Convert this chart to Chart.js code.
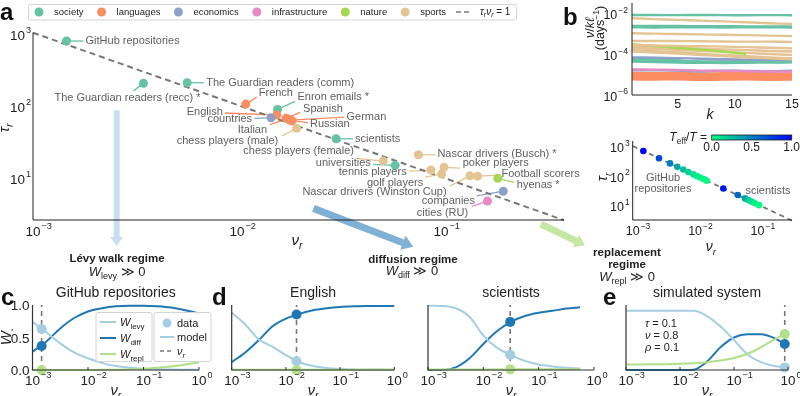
<!DOCTYPE html>
<html>
<head>
<meta charset="utf-8">
<script src="https://cdn.jsdelivr.net/npm/chart.js@4.4.0/dist/chart.umd.min.js"></script>
<style>
  body { margin: 0; background: #fff; }
  #fig { position: relative; width: 800px; height: 396px; overflow: hidden; }
  #fig canvas { position: absolute; }
</style>
</head>
<body>
<div id="fig">
  <canvas id="pa" width="800" height="396" style="left:0;top:0"></canvas>
  <canvas id="pb1" width="240" height="120" style="left:560px;top:0"></canvas>
  <canvas id="pb2" width="240" height="130" style="left:560px;top:125px"></canvas>
  <canvas id="pcb" width="100" height="26" style="left:700px;top:128px"></canvas>
  <canvas id="pc" width="212" height="116" style="left:0;top:280px"></canvas>
  <canvas id="pd1" width="200" height="116" style="left:212px;top:280px"></canvas>
  <canvas id="pd2" width="196" height="116" style="left:412px;top:280px"></canvas>
  <canvas id="pe" width="200" height="116" style="left:600px;top:280px"></canvas>
</div>
<script>
'use strict';

// ---------- panel a : systems in the (nu_r, tau_r) plane ----------
const A_NAMES = [
  'GitHub repositories', 'The Guardian readers (recc) *', 'The Guardian readers (comm)', 'French',
  'Enron emails *', 'English', 'countries', 'Spanish', 'German', 'Italian', 'Russian',
  'chess players (male)', 'scientists', 'chess players (female)', 'universities',
  'Nascar drivers (Busch) *', 'tennis players', 'poker players', 'golf players',
  'Nascar drivers (Winston Cup)', 'Football scorers', 'hyenas *', 'companies', 'cities (RU)'
];
const A_NU = [0.00146, 0.00348, 0.0057, 0.01104, 0.0158, 0.01567, 0.0147, 0.0174, 0.0183, 0.0176, 0.0186,
  0.0196, 0.0306, 0.0521, 0.0596, 0.0775, 0.0893, 0.1035, 0.1007, 0.1387, 0.151, 0.190, 0.202, 0.169];
const A_TAU = [767, 198, 202, 102, 86, 72, 65.9, 64.7, 61.2, 64, 60,
  47, 33.7, 16.5, 14.4, 20.2, 12.4, 13.5, 10.9, 10.3, 10.2, 9.5, 6.3, 4.6];
const A_CAT = ['society', 'society', 'society', 'languages', 'society', 'languages', 'economics', 'languages',
  'languages', 'languages', 'languages', 'sports', 'society', 'sports', 'society', 'sports', 'sports',
  'sports', 'sports', 'sports', 'sports', 'nature', 'economics', 'infrastructure'];
const CATEGORIES = ['society', 'languages', 'economics', 'infrastructure', 'nature', 'sports'];

// ---------- panel b (top) : rate per k ----------
const B_K = [1, 3, 5, 7, 9, 11, 13, 15];
const B_RATES = [
  [8.9e-3, 8.9e-3, 8.8e-3, 8.9e-3, 8.8e-3, 8.7e-3, 8.8e-3, 8.7e-3],
  [6.2e-3, 5.6e-3, 5.1e-3, 4.7e-3, 4.3e-3, 3.9e-3, 3.5e-3, 3.2e-3],
  [2.6e-3, 2.6e-3, 2.55e-3, 2.5e-3, 2.5e-3, 2.45e-3, 2.4e-3, 2.4e-3],
  [2.2e-3, 2.15e-3, 2.2e-3, 2.2e-3, 2.15e-3, 2.2e-3, 2.2e-3, 2.15e-3],
  [1.12e-3, 1.07e-3, 1.02e-3, 9.8e-4, 9.4e-4, 9.0e-4, 8.5e-4, 8.1e-4],
  [4.7e-4, 4.6e-4, 4.6e-4, 4.5e-4, 4.4e-4, 4.3e-4, 4.3e-4, 4.2e-4],
  [2.95e-4, 2.8e-4, 2.65e-4, 2.55e-4, 2.45e-4, 2.3e-4, 2.15e-4, 2.05e-4],
  [3.2e-4, 2.6e-4, 2.1e-4, 1.75e-4, 1.4e-4, 1.05e-4],
  [2.45e-4, 2.3e-4, 2.1e-4, 1.95e-4, 1.8e-4, 1.65e-4, 1.5e-4, 1.4e-4],
  [2.05e-4, 1.85e-4, 1.7e-4, 1.5e-4, 1.35e-4, 1.2e-4, 1.05e-4, 9.5e-5],
  [1.65e-4, 1.45e-4, 1.3e-4, 1.1e-4, 9.5e-5, 8.3e-5, 7.2e-5, 6.5e-5],
  [1.4e-4, 1.25e-4, 1.1e-4, 9.5e-5, 8.3e-5, 7.3e-5, 6.4e-5, 5.8e-5],
  [7.2e-5, 7.0e-5, 6.6e-5, 6.2e-5, 5.8e-5, 5.6e-5, 5.4e-5, 5.4e-5],
  [6.5e-5, 6.0e-5, 5.2e-5, 4.0e-5, 4.4e-5, 4.8e-5, 4.7e-5, 4.8e-5],
  [5.4e-5, 5.0e-5, 4.6e-5, 4.6e-5, 4.5e-5, 4.3e-5, 4.4e-5, 4.2e-5],
  [4.5e-5, 4.2e-5, 4.0e-5, 3.9e-5, 3.8e-5, 3.9e-5, 4.0e-5, 4.1e-5],
  [1.85e-5, 1.8e-5, 1.75e-5, 1.6e-5, 1.55e-5, 1.5e-5, 1.45e-5, 1.4e-5],
  [1.7e-5, 1.65e-5, 1.6e-5, 1.45e-5, 1.6e-5, 1.55e-5, 1.5e-5, 1.6e-5],
  [1.26e-5, 1.2e-5, 1.25e-5, 1.15e-5, 1.2e-5, 1.25e-5, 1.2e-5, 1.15e-5],
  [1.07e-5, 1.1e-5, 1.05e-5, 1.0e-5, 1.08e-5, 1.03e-5, 1.0e-5, 1.05e-5],
  [9.3e-6, 9.0e-6, 9.5e-6, 9.2e-6, 8.8e-6, 9.3e-6, 9.0e-6, 9.1e-6],
  [8.0e-6, 7.8e-6, 8.1e-6, 7.6e-6, 7.9e-6, 8.0e-6, 7.7e-6, 7.8e-6],
  [6.9e-6, 7.0e-6, 6.7e-6, 6.8e-6, 6.6e-6, 6.9e-6, 6.7e-6, 6.6e-6],
  [5.9e-6, 5.8e-6, 6.0e-6, 5.6e-6, 5.8e-6, 5.9e-6, 5.7e-6, 5.8e-6]
];
const B_RATE_CAT = ['society', 'sports', 'society', 'society', 'sports', 'sports', 'sports', 'nature',
  'sports', 'sports', 'sports', 'sports', 'economics', 'society', 'society', 'society', 'infrastructure',
  'economics', 'languages', 'languages', 'languages', 'languages', 'languages', 'languages'];

// ---------- panel b (bottom) : simulated systems ----------
const B_SIM_NU = [0.00148, 0.00264, 0.00396, 0.00519, 0.00647, 0.00778, 0.00936, 0.0106, 0.0120, 0.0136,
  0.0153, 0.0283, 0.0482, 0.0631, 0.0713, 0.0807, 0.0912, 0.106];
const B_SIM_TAU = [676, 379, 253, 193, 155, 129, 107, 94, 83, 74, 65, 35, 21, 16, 14, 12.4, 11, 9.4];
const B_SIM_TEFF = [1.0, 0.72, 0.5, 0.35, 0.25, 0.18, 0.12, 0.08, 0.05, 0.03, 0.01,
  0.9, 0.6, 0.35, 0.2, 0.12, 0.05, 0.0];

// ---------- panels c, d, e : weights vs nu_r ----------
const W_NU = [0.001, 0.00178, 0.00316, 0.00562, 0.01, 0.0178, 0.0316, 0.0562, 0.1, 0.178, 0.316, 0.562, 1];
const W_TICKS = [0.001, 0.01, 0.1, 1];

const GH_LEVY = [0.74, 0.58, 0.41, 0.27, 0.18, 0.11, 0.06, 0.035, 0.02, 0.01, 0.006, 0.004, 0.002];
const GH_DIFF = [0.28, 0.44, 0.64, 0.80, 0.90, 0.95, 0.98, 0.99, 0.99, 0.98, 0.96, 0.92, 0.87];
const GH_REPL = [0, 0, 0, 0, 0, 0.002, 0.005, 0.01, 0.02, 0.035, 0.055, 0.085, 0.12];
const GH_NU_R = 0.00146;
const GH_POINTS = [0.63, 0.37, 0.0];

const EN_LEVY = [0.88, 0.70, 0.47, 0.36, 0.23, 0.12, 0.06, 0.03, 0.015, 0.008, 0.004, 0.002, 0.001];
const EN_DIFF = [0.12, 0.27, 0.46, 0.67, 0.79, 0.865, 0.92, 0.95, 0.97, 0.98, 0.985, 0.985, 0.985];
const EN_REPL = [0.004, 0.004, 0.004, 0.004, 0.004, 0.004, 0.005, 0.005, 0.005, 0.005, 0.006, 0.006, 0.006];
const EN_NU_R = 0.0157;
const EN_POINTS = [0.134, 0.855, 0.0];

const SC_NU = [0.001, 0.00178, 0.00316, 0.00562, 0.01, 0.0178, 0.0316, 0.0562, 0.1, 0.178, 0.316, 0.562];
const SC_LEVY = [0.99, 0.985, 0.95, 0.82, 0.53, 0.34, 0.23, 0.14, 0.085, 0.055, 0.035, 0.025];
const SC_DIFF = [0, 0, 0.04, 0.18, 0.40, 0.60, 0.74, 0.83, 0.88, 0.91, 0.945, 0.965];
const SC_REPL = [0.008, 0.008, 0.008, 0.008, 0.009, 0.009, 0.01, 0.01, 0.01, 0.01, 0.01, 0.01];
const SC_NU_R = 0.0306;
const SC_POINTS = [0.233, 0.74, 0.01];

const SIM_NU = [0.001, 0.00178, 0.00316, 0.00562, 0.01, 0.0178, 0.0316, 0.0562, 0.1, 0.178, 0.316, 0.562, 0.87];
const SIM_LEVY = [0.91, 0.91, 0.91, 0.91, 0.91, 0.91, 0.83, 0.67, 0.46, 0.24, 0.12, 0.06, 0.04];
const SIM_DIFF = [0, 0, 0, 0, 0, 0.005, 0.13, 0.35, 0.50, 0.55, 0.55, 0.49, 0.40];
const SIM_REPL = [0.085, 0.086, 0.088, 0.09, 0.095, 0.105, 0.12, 0.145, 0.185, 0.25, 0.35, 0.47, 0.554];
const SIM_NU_R = 0.87;
const SIM_POINTS = [0.04, 0.40, 0.554];

// ---------- styles ----------
const FONT = "'Liberation Sans', Arial, Helvetica, sans-serif";
const CAT_COLORS = {
  society: '#66c2a5', languages: '#fc8d62', economics: '#8da0cb',
  infrastructure: '#e78ac3', nature: '#a6d854', sports: '#e5c494'
};
const C_LEVY = '#a6cee3', C_DIFF = '#1f78b4', C_REPL = '#b2df8a';
const LABEL_GREY = '#5f5f5f';
const DASH_GREY = '#777777';

// label placement for panel a: [dx, dy, align, leader dx, leader dy] in px from the point
const A_LABEL_LAYOUT = [
  [19, 0, 'left', 17, 0], [-16, 14.5, 'center', -10, 7.5], [19, 0, 'left', 17, 0],
  [13, -11, 'left', 11, -7], [20, -12.5, 'left', 17.5, -8], [-54, -3, 'right', -52, -2],
  [-19, 1.5, 'right', -17, 0.5], [17, -9.5, 'left', 14, -6], [56, -3.3, 'left', 54, -3],
  [-20, 11, 'right', -17, 6], [18, 3.5, 'left', 16, 2], [-18.4, 12.4, 'right', -14.7, 7.7],
  [19, 0, 'left', 17, 0], [-29.3, -9.7, 'right', -26.6, -2.7], [-24.3, -2, 'right', -22, -1],
  [19, -0.7, 'left', 17, 0], [-24.3, 1.7, 'right', -22, 1], [18.7, -4, 'left', 16, 0.7],
  [-18.4, 8.7, 'right', -16.7, 3], [-23.3, 16.3, 'right', -20, 10.3], [24, -2, 'left', 22, -1],
  [19, 6.7, 'left', 16.3, 4], [-28.3, 9.7, 'right', -26.6, 4.7], [-19.3, 11.6, 'right', -15.6, 5.3]
];

// regime arrows, given in panel a data units
const REGIME_ARROWS = [
  { from: [0.00257, 84], to: [0.00257, 1.09], color: '#c9def0', w: 6, hw: 13, hl: 9 },
  { from: [0.0237, 3.64], to: [0.0731, 1.07], color: '#7fb1d6', w: 7, hw: 15, hl: 11 },
  { from: [0.309, 2.2], to: [0.508, 1.12], color: '#c6e6a4', w: 7, hw: 14, hl: 10 }
];

Chart.defaults.font.family = FONT;

// ---------- drawing helpers ----------
function f(size, style) {
  return (style ? style + ' ' : '') + size + 'px ' + FONT;
}

// parts: [text, size, style, dy]
function rich(ctx, parts, x, y, align, color) {
  ctx.save();
  ctx.fillStyle = color || '#222';
  ctx.textBaseline = 'alphabetic';
  ctx.textAlign = 'left';
  let w = 0;
  const ws = parts.map(p => {
    ctx.font = f(p[1], p[2]);
    const m = ctx.measureText(p[0]).width;
    w += m;
    return m;
  });
  let cx = align === 'center' ? x - w / 2 : align === 'right' ? x - w : x;
  parts.forEach((p, i) => {
    ctx.font = f(p[1], p[2]);
    ctx.fillText(p[0], cx, y + (p[3] || 0));
    cx += ws[i];
  });
  ctx.restore();
}

function richRot(ctx, parts, x, y, color) {
  ctx.save();
  ctx.translate(x, y);
  ctx.rotate(-Math.PI / 2);
  rich(ctx, parts, 0, 0, 'center', color);
  ctx.restore();
}

function expStr(v) {
  return String(Math.round(Math.log10(v))).replace('-', '\u2212');
}

// "10" with superscript; base centred on x, or whole label ending at x
function pow10(ctx, v, x, yc, size, align) {
  const exp = expStr(v);
  ctx.save();
  ctx.fillStyle = '#222';
  ctx.textBaseline = 'alphabetic';
  ctx.textAlign = 'left';
  ctx.font = f(size);
  const bw = ctx.measureText('10').width;
  ctx.font = f(size * 0.68);
  const ew = ctx.measureText(exp).width;
  const x0 = align === 'right' ? x - bw - ew - 1 : x - bw / 2;
  const base = yc + size * 0.36;
  ctx.font = f(size);
  ctx.fillText('10', x0, base);
  ctx.font = f(size * 0.68);
  ctx.fillText(exp, x0 + bw + 1, base - size * 0.5);
  ctx.restore();
}

function arrow(ctx, x1, y1, x2, y2, color, w, hw, hl) {
  const len = Math.hypot(x2 - x1, y2 - y1);
  ctx.save();
  ctx.translate(x1, y1);
  ctx.rotate(Math.atan2(y2 - y1, x2 - x1));
  ctx.fillStyle = color;
  ctx.beginPath();
  ctx.moveTo(0, -w / 2);
  ctx.lineTo(len - hl, -w / 2);
  ctx.lineTo(len - hl, -hw / 2);
  ctx.lineTo(len, 0);
  ctx.lineTo(len - hl, hw / 2);
  ctx.lineTo(len - hl, w / 2);
  ctx.lineTo(0, w / 2);
  ctx.closePath();
  ctx.fill();
  ctx.restore();
}

function seg(ctx, x1, y1, x2, y2, color, width, dash) {
  ctx.save();
  ctx.strokeStyle = color;
  ctx.lineWidth = width;
  ctx.setLineDash(dash || []);
  ctx.beginPath();
  ctx.moveTo(x1, y1);
  ctx.lineTo(x2, y2);
  ctx.stroke();
  ctx.restore();
}

function dot(ctx, x, y, r, color) {
  ctx.save();
  ctx.fillStyle = color;
  ctx.beginPath();
  ctx.arc(x, y, r, 0, Math.PI * 2);
  ctx.fill();
  ctx.restore();
}

function box(ctx, x, y, w, h) {
  ctx.save();
  ctx.fillStyle = 'rgba(255,255,255,0.9)';
  ctx.strokeStyle = '#d4d4d4';
  ctx.lineWidth = 1;
  ctx.beginPath();
  ctx.roundRect(x + 0.5, y + 0.5, w, h, 2);
  ctx.fill();
  ctx.stroke();
  ctx.restore();
}

function axesLines(chart, color, width) {
  const a = chart.chartArea;
  const ctx = chart.ctx;
  ctx.save();
  ctx.strokeStyle = color;
  ctx.lineWidth = width;
  ctx.beginPath();
  ctx.moveTo(a.left, a.top);
  ctx.lineTo(a.left, a.bottom);
  ctx.lineTo(a.right, a.bottom);
  ctx.stroke();
  ctx.restore();
}

// winter colormap reversed: 0 -> green, 1 -> blue
function teffColor(t) {
  return 'rgb(0,' + Math.round(255 * (1 - t)) + ',' + Math.round(255 * (0.5 + 0.5 * t)) + ')';
}

function baseOptions(pad, xScale, yScale) {
  return {
    responsive: false,
    animation: false,
    events: [],
    layout: { padding: pad },
    plugins: { legend: { display: false }, tooltip: { enabled: false } },
    scales: {
      x: Object.assign({ display: false }, xScale),
      y: Object.assign({ display: false }, yScale)
    }
  };
}

const nuR = (s) => [['\u03bd', s, 'italic'], ['r', s * 0.7, 'italic', s * 0.25]];
const tauR = (s) => [['\u03c4', s, 'italic'], ['r', s * 0.7, 'italic', s * 0.25]];

// ---------- panel a ----------
const panelA = {
  id: 'panelA',
  beforeDatasetsDraw(chart) {
    const { ctx, scales: { x, y } } = chart;
    REGIME_ARROWS.forEach(a => arrow(ctx,
      x.getPixelForValue(a.from[0]), y.getPixelForValue(a.from[1]),
      x.getPixelForValue(a.to[0]), y.getPixelForValue(a.to[1]), a.color, a.w, a.hw, a.hl));
    chart.getDatasetMeta(0).data.forEach((p, i) => {
      const L = A_LABEL_LAYOUT[i];
      seg(ctx, p.x, p.y, p.x + L[3], p.y + L[4], CAT_COLORS[A_CAT[i]], 1.3);
    });
  },
  afterDraw(chart) {
    const { ctx, chartArea: a, scales: { x, y } } = chart;
    axesLines(chart, '#222', 1);
    [0.001, 0.01, 0.1].forEach(v => pow10(ctx, v, x.getPixelForValue(v), a.bottom + 11, 13.5, 'center'));
    [10, 100, 1000].forEach(v => pow10(ctx, v, a.left - 2, y.getPixelForValue(v) + 2, 13.5, 'right'));
    richRot(ctx, tauR(15), 9, 128);
    rich(ctx, nuR(15), 297, 245, 'center');

    // point labels
    chart.getDatasetMeta(0).data.forEach((p, i) => {
      const L = A_LABEL_LAYOUT[i];
      ctx.save();
      ctx.font = f(11);
      ctx.fillStyle = LABEL_GREY;
      ctx.textAlign = L[2];
      ctx.textBaseline = 'middle';
      ctx.fillText(A_NAMES[i], p.x + L[0], p.y + L[1]);
      ctx.restore();
    });

    // legend
    box(ctx, 28, 4, 488, 15.5);
    ctx.save();
    ctx.font = f(9.5);
    let lx = 39;
    CATEGORIES.forEach(c => {
      dot(ctx, lx, 12, 4.5, CAT_COLORS[c]);
      rich(ctx, [[c, 9.5]], lx + 15, 15.4, 'left');
      lx += 15 + ctx.measureText(c).width + 18;
    });
    ctx.restore();
    seg(ctx, lx - 8, 12, lx + 8, 12, DASH_GREY, 1.6, [5, 3]);
    rich(ctx, [['\u03c4', 10, 'italic'], ['r', 7, 'italic', 2], ['\u03bd', 10, 'italic'], ['r', 7, 'italic', 2],
      [' = 1', 10]], lx + 16, 15.4, 'left');

    // regime captions
    rich(ctx, [['L\u00e9vy walk regime', 11.5, 'bold']], 117, 262, 'center');
    rich(ctx, [['W', 13, 'italic'], ['levy', 9, '', 3], [' \u226b 0', 13]], 117, 276, 'center');
    rich(ctx, [['diffusion regime', 11.5, 'bold']], 413, 263, 'center');
    rich(ctx, [['W', 13, 'italic'], ['diff', 9, '', 3], [' \u226b 0', 13]], 412, 275, 'center');
    rich(ctx, [['replacement', 11.5, 'bold']], 627, 256, 'center');
    rich(ctx, [['regime', 11.5, 'bold']], 627, 268, 'center');
    rich(ctx, [['W', 13, 'italic'], ['repl', 9, '', 3], [' \u226b 0', 13]], 627, 281, 'center');

    rich(ctx, [['a', 24, 'bold']], 0, 20, 'left', '#111');
  }
};

new Chart(document.getElementById('pa'), {
  type: 'scatter',
  data: {
    datasets: [
      {
        data: A_NU.map((v, i) => ({ x: v, y: A_TAU[i] })),
        backgroundColor: A_CAT.map(c => CAT_COLORS[c]),
        pointRadius: 4.5, pointBorderWidth: 0, clip: false, order: 0
      },
      {
        type: 'line',
        data: [{ x: 0.001, y: 1000 }, { x: 0.401, y: 2.494 }],
        borderColor: DASH_GREY, borderWidth: 2, borderDash: [6, 4], pointRadius: 0, clip: false, order: 1
      }
    ]
  },
  options: baseOptions({ left: 33, top: 32.7, right: 236, bottom: 176 },
    { type: 'logarithmic', min: 0.001, max: 0.401 },
    { type: 'logarithmic', min: 2.51, max: 1000 }),
  plugins: [panelA]
});

// ---------- panel b top ----------
const panelB1 = {
  id: 'panelB1',
  afterDraw(chart) {
    const { ctx, chartArea: a, scales: { x, y } } = chart;
    axesLines(chart, '#222', 1);
    [5, 10, 15].forEach(v => rich(ctx, [[String(v), 12.5]], x.getPixelForValue(v), a.bottom + 13, 'center'));
    [1e-2, 1e-4, 1e-6].forEach(v => pow10(ctx, v, a.left - 4, y.getPixelForValue(v) + 1, 12.5, 'right'));
    rich(ctx, [['k', 14, 'italic']], (a.left + a.right) / 2 - 2, a.bottom + 24, 'center');
    richRot(ctx, [['\u03bd', 12.5, 'italic'], ['/', 12.5], ['k\u2113', 12.5, 'italic']], 34, 28);
    richRot(ctx, [['(days', 12.5], ['\u22121', 8.5, '', -5], [')', 12.5]], 44, 28);
    rich(ctx, [['b', 24, 'bold']], 3, 25, 'left', '#111');
  }
};

new Chart(document.getElementById('pb1'), {
  type: 'line',
  data: {
    datasets: B_RATES.map((vals, i) => ({
      data: vals.map((v, j) => ({ x: B_K[j], y: v })),
      borderColor: CAT_COLORS[B_RATE_CAT[i]],
      borderWidth: 2.4, pointRadius: 0, tension: 0.4
    }))
  },
  options: baseOptions({ left: 72, top: 3, right: 8, bottom: 25 },
    { type: 'linear', min: 1, max: 15 },
    { type: 'logarithmic', min: 1e-6, max: 0.0349 }),
  plugins: [panelB1]
});

// ---------- panel b bottom ----------
const panelB2 = {
  id: 'panelB2',
  afterDraw(chart) {
    const { ctx, chartArea: a, scales: { x, y } } = chart;
    axesLines(chart, '#222', 1);
    [0.001, 0.01, 0.1].forEach(v => pow10(ctx, v, x.getPixelForValue(v), a.bottom + 10.5, 12.5, 'center'));
    [10, 100, 1000].forEach(v => pow10(ctx, v, a.left - 3, y.getPixelForValue(v) + 2, 12.5, 'right'));
    richRot(ctx, tauR(14), 47, 52);
    rich(ctx, nuR(14), 151, 126, 'center');
    rich(ctx, [['GitHub', 11]], 103, 56, 'center', LABEL_GREY);
    rich(ctx, [['repositories', 11]], 103, 67, 'center', LABEL_GREY);
    rich(ctx, [['scientists', 11]], 208, 69, 'center', LABEL_GREY);
    rich(ctx, [['T', 12, 'italic'], ['eff', 8.5, '', 3], ['/', 12], ['T', 12, 'italic'], [' =', 12]],
      147, 16, 'right');
  }
};

new Chart(document.getElementById('pb2'), {
  type: 'scatter',
  data: {
    datasets: [
      {
        data: B_SIM_NU.map((v, i) => ({ x: v, y: B_SIM_TAU[i] })),
        backgroundColor: B_SIM_TEFF.map(teffColor),
        pointRadius: 3.3, pointBorderWidth: 0, clip: false, order: 0
      },
      {
        type: 'line',
        data: [{ x: 0.001, y: 1000 }, { x: 0.357, y: 2.8 }],
        borderColor: DASH_GREY, borderWidth: 1.8, borderDash: [5, 4], pointRadius: 0, clip: false, order: 1
      }
    ]
  },
  options: baseOptions({ left: 72.7, top: 16, right: 8, bottom: 35 },
    { type: 'logarithmic', min: 0.001, max: 0.357 },
    { type: 'logarithmic', min: 2.92, max: 1480 }),
  plugins: [panelB2]
});

// colour bar for T_eff/T
const colorBar = {
  id: 'colorBar',
  afterDraw(chart) {
    const { ctx, chartArea: a, scales: { x } } = chart;
    const g = ctx.createLinearGradient(a.left, 0, a.right, 0);
    [0, 0.25, 0.5, 0.75, 1].forEach(t => g.addColorStop(t, teffColor(t)));
    ctx.save();
    ctx.fillStyle = g;
    ctx.fillRect(a.left, a.top, a.right - a.left, a.bottom - a.top);
    ctx.strokeStyle = '#222';
    ctx.lineWidth = 0.8;
    ctx.strokeRect(a.left, a.top, a.right - a.left, a.bottom - a.top);
    ctx.restore();
    [0, 0.5, 1].forEach(v => rich(ctx, [[v.toFixed(1), 12]], x.getPixelForValue(v), a.bottom + 11, 'center'));
  }
};

new Chart(document.getElementById('pcb'), {
  type: 'line',
  data: { datasets: [{ data: [] }] },
  options: baseOptions({ left: 11.7, top: 7, right: 8.3, bottom: 14 },
    { type: 'linear', min: 0, max: 1 },
    { type: 'linear', min: 0, max: 1 }),
  plugins: [colorBar]
});

// ---------- panels c, d, e ----------
const wPanel = {
  id: 'wPanel',
  afterDraw(chart, args, o) {
    const { ctx, chartArea: a, scales: { x, y } } = chart;
    axesLines(chart, '#333', 1.2);
    W_TICKS.forEach(v => {
      const px = x.getPixelForValue(v);
      seg(ctx, px, a.bottom, px, a.bottom - 3, '#333', 1);
      pow10(ctx, v, px, a.bottom + 10, 13.5, 'center');
    });
    rich(ctx, nuR(14.5), (a.left + a.right) / 2, a.bottom + 25, 'center');
    rich(ctx, [[o.title, 14]], (a.left + a.right) / 2, 17, 'center');
    rich(ctx, [[o.letter, 24, 'bold']], o.letterX, 25, 'left', '#111');

    if (o.yTicks) {
      [0, 0.5, 1].forEach(v => rich(ctx, [[v.toFixed(1), 13.5]], a.left - 3, y.getPixelForValue(v) + 5, 'right'));
      richRot(ctx, [['W', 15, 'italic'], ['\u2022', 6, '', 3]], 11, 57);
    }
    if (o.legend) {
      box(ctx, 95.5, 32, 56, 49);
      box(ctx, 153.5, 32, 57, 49);
      [[C_LEVY, 'levy'], [C_DIFF, 'diff'], [C_REPL, 'repl']].forEach((r, i) => {
        const yy = 42 + i * 16;
        seg(ctx, 100, yy, 116, yy, r[0], 2);
        rich(ctx, [['W', 11, 'italic'], [r[1], 8, '', 2.5]], 120, yy + 4, 'left');
      });
      dot(ctx, 167, 43, 4.5, C_LEVY);
      rich(ctx, [['data', 11]], 177, 47, 'left');
      seg(ctx, 160, 57, 174, 57, C_LEVY, 2);
      rich(ctx, [['model', 11]], 177, 61, 'left');
      seg(ctx, 160, 71, 174, 71, DASH_GREY, 1.6, [4, 3]);
      rich(ctx, nuR(11), 177, 75, 'left');
    }
    if (o.params) {
      rich(ctx, [['\u03c4', 11, 'italic'], [' = 0.1', 11]], 45, 47, 'left');
      rich(ctx, [['\u03bd', 11, 'italic'], [' = 0.8', 11]], 45, 59, 'left');
      rich(ctx, [['\u03c1', 11, 'italic'], [' = 0.1', 11]], 45, 71, 'left');
    }
  }
};

function wDatasets(nu, levy, diff, repl, nuRv, pts) {
  const xy = ys => ys.map((v, i) => ({ x: nu[i], y: v }));
  const pt = (v, c) => ({
    data: [{ x: nuRv, y: v }], showLine: false, pointRadius: 5, pointBorderWidth: 0,
    pointBackgroundColor: c, clip: false, order: 0
  });
  const curve = (ys, c) => ({
    data: xy(ys), borderColor: c, borderWidth: 2, pointRadius: 0,
    cubicInterpolationMode: 'monotone', clip: false, order: 2
  });
  return [
    pt(pts[2], C_REPL), pt(pts[1], C_DIFF), pt(pts[0], C_LEVY),
    {
      data: [{ x: nuRv, y: 0 }, { x: nuRv, y: 1 }], borderColor: DASH_GREY, borderWidth: 1.6,
      borderDash: [5, 4], pointRadius: 0, clip: false, order: 1
    },
    curve(repl, C_REPL), curve(levy, C_LEVY), curve(diff, C_DIFF)
  ];
}

function wChart(id, pad, datasets, opts) {
  const options = baseOptions(pad,
    { type: 'logarithmic', min: 0.001, max: 1 },
    { type: 'linear', min: 0, max: 1 });
  options.plugins.wPanel = opts;
  new Chart(document.getElementById(id), {
    type: 'line',
    data: { datasets: datasets },
    options: options,
    plugins: [wPanel]
  });
}

wChart('pc', { left: 32.5, top: 25, right: 13, bottom: 26 },
  wDatasets(W_NU, GH_LEVY, GH_DIFF, GH_REPL, GH_NU_R, GH_POINTS),
  { title: 'GitHub repositories', letter: 'c', letterX: 1, yTicks: true, legend: true });

wChart('pd1', { left: 19.7, top: 25, right: 17.7, bottom: 26 },
  wDatasets(W_NU, EN_LEVY, EN_DIFF, EN_REPL, EN_NU_R, EN_POINTS),
  { title: 'English', letter: 'd', letterX: 0 });

wChart('pd2', { left: 16, top: 25, right: 14, bottom: 26 },
  wDatasets(SC_NU, SC_LEVY, SC_DIFF, SC_REPL, SC_NU_R, SC_POINTS),
  { title: 'scientists', letter: '', letterX: 0 });

wChart('pe', { left: 26, top: 25, right: 12, bottom: 26 },
  wDatasets(SIM_NU, SIM_LEVY, SIM_DIFF, SIM_REPL, SIM_NU_R, SIM_POINTS),
  { title: 'simulated system', letter: 'e', letterX: 3, params: true });
</script>
</body>
</html>
